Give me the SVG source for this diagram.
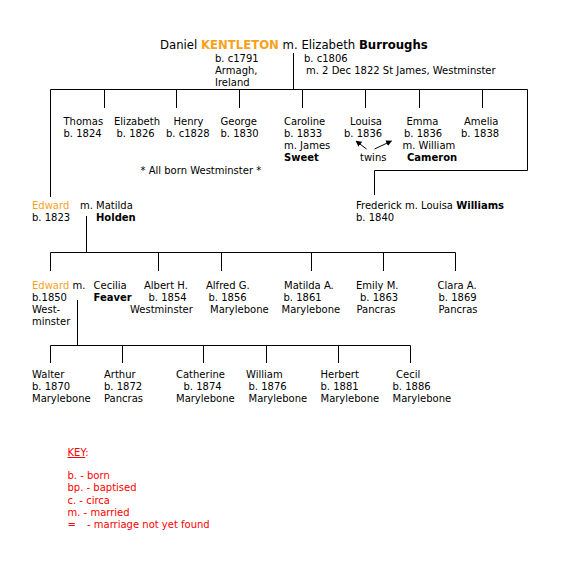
<svg xmlns="http://www.w3.org/2000/svg" width="570" height="566" viewBox="0 0 570 566">
<style>
text{font-family:"DejaVu Sans",Verdana,sans-serif;font-size:10px;fill:#000}
.t{font-size:11.7px}
.b{font-weight:bold}
.o{fill:#f7a21b}
.k{fill:#ff0000}
.ln{stroke:#000;stroke-width:1;fill:none}
</style>
<defs>
<marker id="ah" viewBox="0 0 10 10" refX="9" refY="5" markerWidth="6" markerHeight="6" orient="auto-start-reverse">
<path d="M0,0 L10,5 L0,10 z" fill="#000"/>
</marker>
</defs>
<rect width="570" height="566" fill="#fff"/>
<g id="connectors" class="ln">
<path d="M293.5,53V89.5M50.5,89.5H527.5M104.5,89.5V108M176.5,89.5V108M239.5,89.5V108M302.5,89.5V108M365.5,89.5V108M419.5,89.5V108M482.5,89.5V108M50.5,89.5V197M527.5,89.5V170.5H374.5V195"/>
<path d="M86.5,216V252.5M50.5,252.5H455.5M50.5,252.5V271M158.5,252.5V271M221.5,252.5V271M311.5,252.5V271M383.5,252.5V271M455.5,252.5V271"/>
<path d="M77.5,300V345.5M50.5,345.5H410.5M50.5,345.5V363M122.5,345.5V363M203.5,345.5V363M266.5,345.5V363M338.5,345.5V363M410.5,345.5V363"/>
<line x1="366.5" y1="149" x2="356" y2="141" marker-end="url(#ah)"/>
<line x1="374.5" y1="149" x2="391.5" y2="141" marker-end="url(#ah)"/>
</g>
<g id="parents">
<text class="t" x="160" y="48.5">Daniel <tspan class="b o">KENTLETON</tspan> m. Elizabeth <tspan class="b">Burroughs</tspan></text>
<text x="215" y="61.5">b. c1791</text>
<text x="215" y="73.5">Armagh,</text>
<text x="215" y="85.5">Ireland</text>
<text x="304" y="61.5">b. c1806</text>
<text x="306" y="73.5">m. 2 Dec 1822 St James, Westminster</text>
</g>
<g id="thomas"><text x="63.5" y="125">Thomas</text><text x="63.5" y="137">b. 1824</text></g>
<g id="elizabeth"><text x="114" y="125">Elizabeth</text><text x="116.5" y="137">b. 1826</text></g>
<g id="henry"><text x="173.5" y="125">Henry</text><text x="166" y="137">b. c1828</text></g>
<g id="george"><text x="220.5" y="125">George</text><text x="220.5" y="137">b. 1830</text></g>
<g id="note"><text x="140.5" y="174">* All born Westminster *</text></g>
<g id="caroline"><text x="284" y="125">Caroline</text><text x="284" y="137">b. 1833</text><text x="284" y="149">m. James</text><text class="b" x="284" y="161">Sweet</text></g>
<g id="louisa"><text x="350" y="125">Louisa</text><text x="344" y="137">b. 1836</text></g>
<g id="twins"><text x="360" y="161">twins</text></g>
<g id="emma"><text x="406.5" y="125">Emma</text><text x="404" y="137">b. 1836</text><text x="402.5" y="149">m. William</text><text class="b" x="407" y="161">Cameron</text></g>
<g id="amelia"><text x="464" y="125">Amelia</text><text x="461" y="137">b. 1838</text></g>
<g id="edward1823"><text class="o" x="32" y="209">Edward</text><text x="32" y="221">b. 1823</text><text x="80" y="209">m. Matilda</text><text class="b" x="96" y="221">Holden</text></g>
<g id="frederick"><text x="356" y="209">Frederick m. Louisa <tspan class="b">Williams</tspan></text><text x="356" y="221">b. 1840</text></g>
<g id="edward1850"><text x="32" y="289"><tspan class="o">Edward</tspan> m.</text><text x="32" y="301">b.1850</text><text x="32" y="313">West-</text><text x="32" y="325">minster</text><text x="93.5" y="289">Cecilia</text><text class="b" x="93.5" y="301">Feaver</text></g>
<g id="albert"><text x="144" y="289">Albert H.</text><text x="148.5" y="301">b. 1854</text><text x="130" y="313">Westminster</text></g>
<g id="alfred"><text x="206" y="289">Alfred G.</text><text x="208.5" y="301">b. 1856</text><text x="210" y="313">Marylebone</text></g>
<g id="matilda"><text x="284" y="289">Matilda A.</text><text x="283.5" y="301">b. 1861</text><text x="281.5" y="313">Marylebone</text></g>
<g id="emily"><text x="356" y="289">Emily M.</text><text x="360" y="301">b. 1863</text><text x="356.5" y="313">Pancras</text></g>
<g id="clara"><text x="437.5" y="289">Clara A.</text><text x="438.5" y="301">b. 1869</text><text x="438.5" y="313">Pancras</text></g>
<g id="walter"><text x="32" y="378">Walter</text><text x="32" y="390">b. 1870</text><text x="32" y="402">Marylebone</text></g>
<g id="arthur"><text x="104" y="378">Arthur</text><text x="104" y="390">b. 1872</text><text x="104" y="402">Pancras</text></g>
<g id="catherine"><text x="176" y="378">Catherine</text><text x="183.5" y="390">b. 1874</text><text x="176" y="402">Marylebone</text></g>
<g id="william"><text x="246" y="378">William</text><text x="248.5" y="390">b. 1876</text><text x="248.5" y="402">Marylebone</text></g>
<g id="herbert"><text x="320.5" y="378">Herbert</text><text x="320.5" y="390">b. 1881</text><text x="320.5" y="402">Marylebone</text></g>
<g id="cecil"><text x="396" y="378">Cecil</text><text x="392.5" y="390">b. 1886</text><text x="392.5" y="402">Marylebone</text></g>
<g id="key">
<text class="k" x="67.5" y="456"><tspan text-decoration="underline">KEY</tspan>:</text>
<text class="k" x="67.5" y="479">b. - born</text>
<text class="k" x="67.5" y="491">bp. - baptised</text>
<text class="k" x="67.5" y="503.5">c. - circa</text>
<text class="k" x="67.5" y="515.5">m. - married</text>
<text class="k" x="67.5" y="528">=</text>
<text class="k" x="87" y="528">- marriage not yet found</text>
</g>
</svg>
